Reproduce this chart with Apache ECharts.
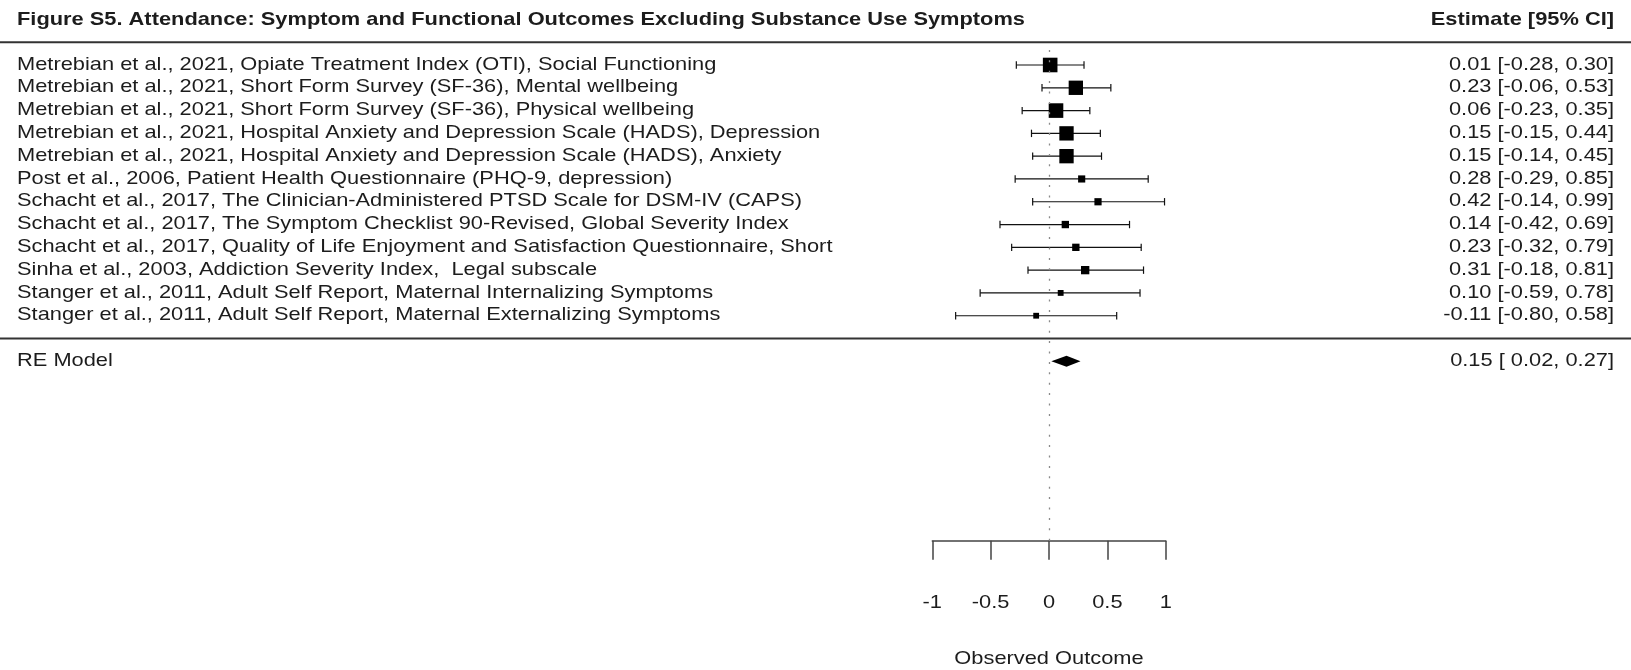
<!DOCTYPE html>
<html><head><meta charset="utf-8">
<script src="https://cdn.jsdelivr.net/npm/echarts@6/dist/echarts.min.js"></script>
<style>html,body{margin:0;padding:0;background:#fff}#c{width:1631px;height:670px}</style>
</head><body><div id="c"></div>
<script>
const studyLabels = [
  "Metrebian et al., 2021, Opiate Treatment Index (OTI), Social Functioning",
  "Metrebian et al., 2021, Short Form Survey (SF-36), Mental wellbeing",
  "Metrebian et al., 2021, Short Form Survey (SF-36), Physical wellbeing",
  "Metrebian et al., 2021, Hospital Anxiety and Depression Scale (HADS), Depression",
  "Metrebian et al., 2021, Hospital Anxiety and Depression Scale (HADS), Anxiety",
  "Post et al., 2006, Patient Health Questionnaire (PHQ-9, depression)",
  "Schacht et al., 2017, The Clinician-Administered PTSD Scale for DSM-IV (CAPS)",
  "Schacht et al., 2017, The Symptom Checklist 90-Revised, Global Severity Index",
  "Schacht et al., 2017, Quality of Life Enjoyment and Satisfaction Questionnaire, Short",
  "Sinha et al., 2003, Addiction Severity Index,  Legal subscale",
  "Stanger et al., 2011, Adult Self Report, Maternal Internalizing Symptoms",
  "Stanger et al., 2011, Adult Self Report, Maternal Externalizing Symptoms"
];
const estimates = [0.01, 0.23, 0.06, 0.15, 0.15, 0.28, 0.42, 0.14, 0.23, 0.31, 0.10, -0.11];
const ciLower   = [-0.28, -0.06, -0.23, -0.15, -0.14, -0.29, -0.14, -0.42, -0.32, -0.18, -0.59, -0.80];
const ciUpper   = [0.30, 0.53, 0.35, 0.44, 0.45, 0.85, 0.99, 0.69, 0.79, 0.81, 0.78, 0.58];
const reModel = { label: "RE Model", est: 0.15, lo: 0.02, hi: 0.27 };
const xTicks = [-1, -0.5, 0, 0.5, 1];
const titleText = "Figure S5. Attendance: Symptom and Functional Outcomes Excluding Substance Use Symptoms";
const headerText = "Estimate [95% CI]";
const xName = "Observed Outcome";

const FONT = "'Liberation Sans', Arial, Helvetica, sans-serif";
const TXT = "#1c1c1c";
const FS = 18.5;     // body font size
const SX = 1.18;     // horizontal stretch of the original rendering
const k = studyLabels.length;
const Y_MIN = -8.87; // bottom of the plotting region (axis position, in row units)
const fmt = v => (v < 0 ? "" : " ") + v.toFixed(2);
const ciString = (e, l, h) => e.toFixed(2) + " [" + fmt(l) + ", " + h.toFixed(2) + "]";

// box sizes from precision (1/SE)
const prec = ciLower.map((l, i) => 3.92 / (ciUpper[i] - l));
const pMin = Math.min(...prec), pMax = Math.max(...prec);
const boxSize = p => 5.8 + (p - pMin) / (pMax - pMin) * (14.6 - 5.8);

const rows = studyLabels.map((lab, i) => ({
  value: [estimates[i], k - i, ciLower[i], ciUpper[i], boxSize(prec[i])],
  label: lab, ci: ciString(estimates[i], ciLower[i], ciUpper[i])
}));

const chart = echarts.init(document.getElementById('c'), null, { renderer: 'canvas' });
const W = 1631;
const LEFT_X = 17, RIGHT_X = 1614;
const txt = (text, x, y, align, extra) => ({
  type: 'text', x: x, y: y, scaleX: SX,
  style: Object.assign({ text: text, fontFamily: FONT, fontSize: FS, fill: TXT,
    verticalAlign: 'middle', align: align }, extra || {})
});

chart.setOption({
  animation: false,
  backgroundColor: '#fff',
  graphic: [
    txt(titleText, LEFT_X, 20, 'left', { fontWeight: 'bold' }),
    txt(headerText, RIGHT_X, 20, 'right', { fontWeight: 'bold' })
  ],
  grid: { left: 932.3, right: 465.3, top: 42.2, bottom: 129.3 },
  xAxis: {
    type: 'value', min: -1, max: 1, interval: 0.5,
    axisLine: { show: true, onZero: false, lineStyle: { color: '#444', width: 1.5 } },
    axisTick: { show: true, length: 19, lineStyle: { color: '#444', width: 1.5 } },
    axisLabel: { show: false },
    splitLine: { show: false }
  },
  yAxis: { type: 'value', min: Y_MIN, max: k + 1, show: false },
  series: [
    {
      type: 'custom', clip: false, silent: true,
      data: [{ value: [k + 1] }, { value: [0] }],
      renderItem: (params, api) => {
        const y = api.coord([0, api.value(0)])[1];
        return { type: 'line', shape: { x1: 0, y1: y, x2: W, y2: y },
          style: { stroke: '#333', lineWidth: 2 } };
      },
      markLine: {
        silent: true, symbol: 'none', label: { show: false },
        lineStyle: { color: '#8a8a8a', width: 1.3, type: [2, 8.4] },
        data: [{ xAxis: 0 }]
      }
    },
    {
      type: 'custom', clip: false, silent: true,
      data: rows,
      renderItem: (params, api) => {
        const e = api.value(0), r = api.value(1), l = api.value(2), h = api.value(3), s = api.value(4);
        const pe = api.coord([e, r]), pl = api.coord([l, r]), ph = api.coord([h, r]);
        const item = rows[params.dataIndex];
        const cap = 3.7;
        const st = { stroke: '#111', lineWidth: 1.2 };
        return { type: 'group', children: [
          { type: 'line', shape: { x1: pl[0], y1: pl[1], x2: ph[0], y2: ph[1] }, style: st },
          { type: 'line', shape: { x1: pl[0], y1: pl[1] - cap, x2: pl[0], y2: pl[1] + cap }, style: st },
          { type: 'line', shape: { x1: ph[0], y1: ph[1] - cap, x2: ph[0], y2: ph[1] + cap }, style: st },
          { type: 'rect', shape: { x: pe[0] - s / 2, y: pe[1] - s / 2, width: s, height: s }, style: { fill: '#000' } },
          txt(item.label, LEFT_X, pe[1] - 0.5, 'left'),
          txt(item.ci, RIGHT_X, pe[1] - 0.5, 'right')
        ]};
      }
    },
    {
      type: 'custom', clip: false, silent: true,
      data: [{ value: [reModel.est, -1, reModel.lo, reModel.hi] }],
      renderItem: (params, api) => {
        const e = api.value(0), r = api.value(1), l = api.value(2), h = api.value(3);
        const pe = api.coord([e, r]), pl = api.coord([l, r]), ph = api.coord([h, r]);
        const dh = 5.5;
        return { type: 'group', children: [
          { type: 'polygon', shape: { points: [[pl[0], pl[1]], [pe[0], pe[1] - dh], [ph[0], ph[1]], [pe[0], pe[1] + dh]] }, style: { fill: '#000' } },
          txt(reModel.label, LEFT_X, pe[1] - 0.5, 'left'),
          txt(ciString(e, l, h), RIGHT_X, pe[1] - 0.5, 'right')
        ]};
      }
    },
    {
      // tick labels and axis title, positioned through the x scale
      type: 'custom', clip: false, silent: true,
      data: xTicks.map(v => ({ value: [v] })),
      renderItem: (params, api) => {
        const v = api.value(0);
        const p = api.coord([v, Y_MIN]);
        const children = [txt(String(v), p[0], p[1] + 62, 'center')];
        if (v === 0) children.push(txt(xName, p[0], p[1] + 118, 'center'));
        return { type: 'group', children: children };
      }
    }
  ]
});
</script></body></html>
